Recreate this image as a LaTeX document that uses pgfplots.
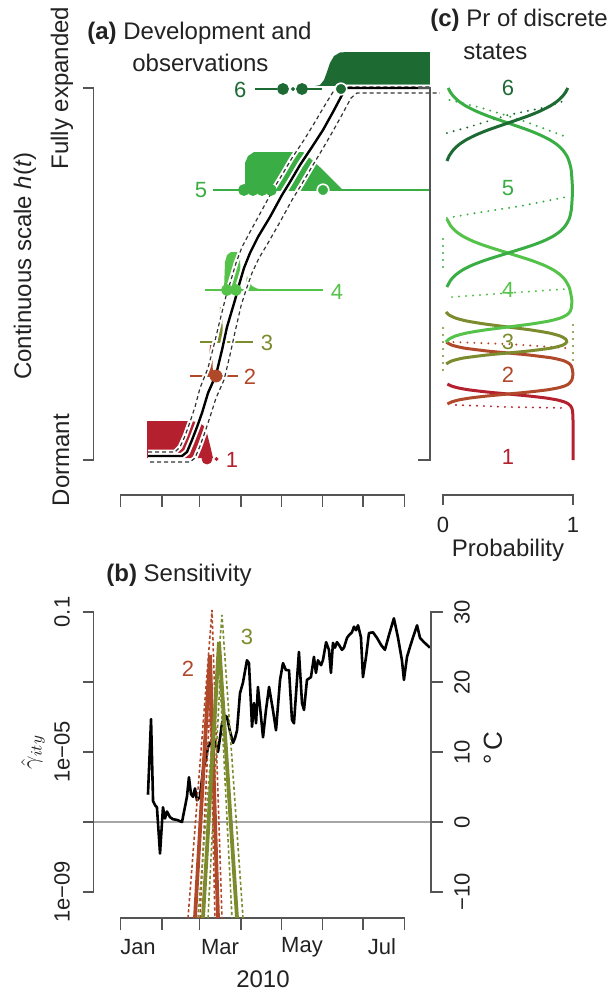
\documentclass[border=0pt]{standalone}
\usepackage{fontspec}
\setmainfont{Liberation Sans}
\usepackage{pgfplots}
\pgfplotsset{compat=1.18}
\definecolor{cA}{HTML}{B5202E}
\definecolor{cB}{HTML}{B0482A}
\definecolor{cC}{HTML}{7B8B2E}
\definecolor{cD}{HTML}{55C24A}
\definecolor{cE}{HTML}{3AAE44}
\definecolor{cF}{HTML}{1D6A33}
\definecolor{axg}{HTML}{555555}
\definecolor{txt}{HTML}{222222}
\definecolor{dsh}{HTML}{333333}
\tikzset{lab/.style={font=\fontsize{11}{13}\selectfont, text=txt, inner sep=0pt},
         ttl/.style={font=\fontsize{12}{14}\selectfont, text=txt, inner sep=0pt},
         dots/.style={line width=1.1pt, dash pattern=on 0pt off 3.5pt, line cap=round}}
\begin{document}
\begin{tikzpicture}
\useasboundingbox (0,0) rectangle (307pt,-496pt);
% ---------------- Panel (a) ----------------
\begin{axis}[at={(46.75pt,-230pt)},anchor=south west,scale only axis,width=168.75pt,height=186pt,
  xmin=-20.16,xmax=231.8,ymin=0,ymax=372,axis lines=none,ticks=none,clip=false]
% density shapes
\addplot[fill=cA,draw=none] coordinates {(19.78,2) (19.78,39) (51.88,39) (57.85,38) (62.33,34) (64.57,27) (66.81,15) (69.05,2)} -- cycle;
\addplot[fill=cB,draw=none] coordinates {(65.32,84) (66.81,115) (68.30,115) (69.05,84)} -- cycle;
\addplot[fill=cC,draw=none] coordinates {(72.78,118) (74.28,153) (75.77,153) (76.52,118)} -- cycle;
\addplot[fill=cD,draw=none] coordinates {(77.26,170) (78.01,198) (79.50,205) (82.49,208) (87.71,208) (89.21,204) (89.95,170)} -- cycle;
\addplot[fill=cD,draw=none] coordinates {(92.19,170) (93.68,177) (94.43,184) (95.92,179) (98.16,174) (101.90,171.5) (107.87,170)} -- cycle;
\addplot[fill=cE,draw=none] coordinates {(92.94,270) (92.94,297) (95.18,304) (99.66,308) (136.23,308) (142.95,300) (150.42,291) (157.88,281) (162.36,275) (166.10,270)} -- cycle;
\addplot[fill=cF,draw=none] coordinates {(145.19,374) (148.93,375) (151.91,380) (154.15,388) (156.39,397) (159.38,404) (163.86,407.5) (169.08,408) (231.04,408) (231.04,375)} -- cycle;
% stage lines
\addplot[cB,line width=1pt] coordinates {(51.88,84) (87.71,84)};
\addplot[cC,line width=1pt] coordinates {(59.35,118) (98.91,118)};
\addplot[cD,line width=1pt] coordinates {(63.08,170) (151.17,170)};
\addplot[cE,line width=1pt] coordinates {(69.05,270) (231.04,270)};
\addplot[cF,line width=1pt] coordinates {(100.40,371) (116.83,371)};
\addplot[cF,line width=1pt] coordinates {(139.22,371) (150.42,371)};
% observation dots
\addplot[only marks,mark=*,mark size=2.5pt,cA] coordinates {(64.57,1)};
\addplot[only marks,mark=*,mark size=0.8pt,cA] coordinates {(71.66,1)};
\addplot[only marks,mark=*,mark size=3pt,cB] coordinates {(71.29,84)};
\addplot[only marks,mark=*,mark size=2.75pt,cD] coordinates {(79.50,170) (86.22,170)};
\addplot[only marks,mark=*,mark size=2.75pt,cE] coordinates {(92.19,270) (98.91,270) (105.63,270) (112.34,270)};
\addplot[only marks,mark=*,mark size=2.75pt,cF] coordinates {(121.31,371) (135.49,371)};
\addplot[only marks,mark=*,mark size=0.8pt,cF] coordinates {(128.77,371)};
% halos
\addplot[white,line width=2.4pt] coordinates {(20.53,8) (40.68,8) (44.42,13) (48.15,24) (51.88,38) (55.61,53) (59.35,72) (65.32,92) (69.80,115) (74.28,140) (78.76,164) (82.49,180) (86.22,197) (90.70,213) (96.67,228) (105.63,250) (114.59,272) (120.56,285) (128.02,302) (136.98,320) (145.19,338) (152.66,355) (158.63,368) (162.36,373) (231.04,373)};
\addplot[white,line width=2.4pt] coordinates {(22.02,-2) (51.88,-2) (55.61,2) (59.35,14) (63.08,28) (66.81,43) (71.29,62) (77.26,80) (81.74,105) (85.48,128) (89.95,154) (93.68,170) (98.16,187) (103.39,202) (110.11,217) (119.07,238) (128.02,260) (134.00,273) (141.46,290) (150.42,310) (158.63,329) (166.10,347) (172.07,362) (176.55,367) (238.5,367)};
\addplot[white,line width=3.2pt] coordinates {(20.53,4) (45.91,4) (49.64,8) (53.37,20) (57.11,33) (60.84,47) (65.32,67) (71.29,85) (75.77,110) (79.50,133) (85.48,160) (88.46,175) (92.19,192) (96.67,207) (102.64,223) (111.60,243) (120.56,265) (126.53,278) (134.00,295) (142.95,313) (151.17,330) (158.63,348) (165.35,365) (169.08,372) (231.04,372)};
% credible intervals and mean
\addplot[dsh,line width=0.6pt,dash pattern=on 2pt off 1.5pt] coordinates {(20.53,8) (40.68,8) (44.42,13) (48.15,24) (51.88,38) (55.61,53) (59.35,72) (65.32,92) (69.80,115) (74.28,140) (78.76,164) (82.49,180) (86.22,197) (90.70,213) (96.67,228) (105.63,250) (114.59,272) (120.56,285) (128.02,302) (136.98,320) (145.19,338) (152.66,355) (158.63,368) (162.36,373) (231.04,373)};
\addplot[dsh,line width=0.6pt,dash pattern=on 2pt off 1.5pt] coordinates {(22.02,-2) (51.88,-2) (55.61,2) (59.35,14) (63.08,28) (66.81,43) (71.29,62) (77.26,80) (81.74,105) (85.48,128) (89.95,154) (93.68,170) (98.16,187) (103.39,202) (110.11,217) (119.07,238) (128.02,260) (134.00,273) (141.46,290) (150.42,310) (158.63,329) (166.10,347) (172.07,362) (176.55,367) (238.5,367)};
\addplot[black,line width=1.2pt] coordinates {(20.53,4) (45.91,4) (49.64,8) (53.37,20) (57.11,33) (60.84,47) (65.32,67) (71.29,85) (75.77,110) (79.50,133) (85.48,160) (88.46,175) (92.19,192) (96.67,207) (102.64,223) (111.60,243) (120.56,265) (126.53,278) (134.00,295) (142.95,313) (151.17,330) (158.63,348) (165.35,365) (169.08,372) (231.04,372)};
\addplot[only marks,mark=*,mark size=2.9pt,mark options={fill=cE,draw=white,line width=0.8pt}] coordinates {(151.17,270)};
\addplot[only marks,mark=*,mark size=2.9pt,mark options={fill=cF,draw=white,line width=0.8pt}] coordinates {(164.61,371)};
% stage labels
\node[lab,text=cF] at (axis cs:89.4,370) {6};
\node[lab,text=cE] at (axis cs:60.1,270) {5};
\node[lab,text=cD] at (axis cs:161.6,168) {4};
\node[lab,text=cC] at (axis cs:109.4,117) {3};
\node[lab,text=cB] at (axis cs:96.7,83) {2};
\node[lab,text=cA] at (axis cs:83.2,0) {1};
% axes
\draw[axg,line width=0.65pt] (axis cs:-20.16,372) ++(-5.5pt,0pt) -- (axis cs:-20.16,372) -- (axis cs:-20.16,0) -- ++(-5.5pt,0pt);
\draw[axg,line width=0.65pt] (axis cs:0,-47) -- (axis cs:0,-35) -- (axis cs:212,-35) -- (axis cs:212,-47)
  (axis cs:31,-35) -- (axis cs:31,-47) (axis cs:59,-35) -- (axis cs:59,-47) (axis cs:90,-35) -- (axis cs:90,-47)
  (axis cs:120,-35) -- (axis cs:120,-47) (axis cs:151,-35) -- (axis cs:151,-47) (axis cs:181,-35) -- (axis cs:181,-47);
\end{axis}
% ---------------- Panel (c) ----------------
\begin{axis}[at={(221.5pt,-230pt)},anchor=south west,scale only axis,width=65pt,height=186pt,
  xmin=0,xmax=1,ymin=0,ymax=372,axis lines=none,ticks=none,clip=false]
% dotted alternative estimates
\addplot[cE,dots] coordinates {(0.03,242) (0.3,248) (0.6,254) (0.95,263)};
\addplot[cD,dots] coordinates {(0.07,163) (0.5,167) (0.95,171)};
\addplot[cF,dots] coordinates {(0.03,327) (0.2,333) (0.5,345) (0.8,353) (0.95,360)};
\addplot[cE,dots] coordinates {(0.05,360) (0.3,352) (0.6,340) (0.95,323)};
\addplot[cE,dots] coordinates {(0,193) (0,227)};
\addplot[cB,dots] coordinates {(0.08,118) (0.5,116) (0.95,112)};
\addplot[cA,dots] coordinates {(0.1,55) (0.5,53) (0.95,52)};
\addplot[cC,dots] coordinates {(0,90) (0,137)};
\addplot[cC,dots] coordinates {(1,100) (1,135)};
% probability curves
\addplot[cA,line width=1.5pt,smooth,tension=0.4] coordinates {(1,0) (1,40) (0.995,50) (0.982,54) (0.966,56) (0.935,58) (0.881,60) (0.792,62) (0.661,64) (0.5,66) (0.339,68) (0.208,70) (0.119,72) (0.065,74) (0.034,76)};
\addplot[cB,line width=1.5pt,smooth,tension=0.4] coordinates {(0.034,56) (0.065,58) (0.119,60) (0.208,62) (0.339,64) (0.5,66) (0.661,68) (0.792,70) (0.881,72) (0.935,74) (0.966,76) (0.991,80) (0.999,85) (0.996,90) (0.987,94) (0.975,96) (0.935,99) (0.841,102) (0.661,105) (0.5,107) (0.339,109) (0.159,112) (0.065,115) (0.025,118)};
\addplot[cC,line width=1.5pt,smooth,tension=0.4] coordinates {(0.025,96) (0.065,99) (0.158,102) (0.338,105) (0.498,107) (0.658,109) (0.836,112) (0.924,115) (0.952,118) (0.943,121) (0.901,124) (0.817,127) (0.679,130) (0.5,133) (0.321,136) (0.182,139) (0.095,142) (0.047,145) (0.023,148)};
\addplot[cD,line width=1.5pt,smooth,tension=0.4] coordinates {(0.023,118) (0.047,121) (0.095,124) (0.182,127) (0.321,130) (0.5,133) (0.679,136) (0.817,139) (0.904,142) (0.951,145) (0.975,148) (0.987,152) (0.991,160) (0.977,170) (0.97,173) (0.94,180) (0.904,185) (0.85,190) (0.773,195) (0.671,200) (0.5,207) (0.329,214) (0.227,219) (0.15,224) (0.096,229) (0.06,234) (0.03,241)};
\addplot[cE,line width=1.5pt,smooth,tension=0.4] coordinates {(0.03,173) (0.06,180) (0.096,185) (0.15,190) (0.227,195) (0.329,200) (0.5,207) (0.671,214) (0.773,219) (0.85,224) (0.904,229) (0.94,234) (0.97,241) (0.987,250) (0.996,270) (0.986,290) (0.969,299) (0.953,304) (0.921,310) (0.881,315) (0.824,320) (0.748,325) (0.654,330) (0.5,337) (0.346,344) (0.252,349) (0.176,354) (0.119,359) (0.079,364) (0.056,368) (0.04,372)};
\addplot[cF,line width=1.5pt,smooth,tension=0.4] coordinates {(0.031,299) (0.047,304) (0.079,310) (0.119,315) (0.176,320) (0.252,325) (0.346,330) (0.5,337) (0.654,344) (0.748,349) (0.824,354) (0.881,359) (0.921,364) (0.944,368) (0.96,372)};
% state labels
\node[lab,text=cF] at (axis cs:0.5,372) {6};
\node[lab,text=cE] at (axis cs:0.5,272) {5};
\node[lab,text=cD] at (axis cs:0.5,170) {4};
\node[lab,text=cC] at (axis cs:0.5,118) {3};
\node[lab,text=cB] at (axis cs:0.5,85) {2};
\node[lab,text=cA] at (axis cs:0.5,3) {1};
% axes
\draw[axg,line width=0.65pt] (axis cs:-0.1,372) ++(-6pt,0pt) -- (axis cs:-0.1,372) -- (axis cs:-0.1,0) -- ++(-6pt,0pt);
\draw[axg,line width=0.65pt] (axis cs:0,-45) -- (axis cs:0,-35) -- (axis cs:1,-35) -- (axis cs:1,-45);
\end{axis}
% ---------------- Panel (b): temperature ----------------
\begin{axis}[at={(46.75pt,-459pt)},anchor=south west,scale only axis,width=168.75pt,height=159pt,
  xmin=-20.16,xmax=231.8,ymin=-13.714,ymax=31.714,axis lines=none,ticks=none,clip=false]
\addplot[color=black!35,line width=0.6pt] coordinates {(-20.16,0) (231.8,0)};
\addplot[black,line width=1.3pt,line join=round] coordinates {
(20.5,3.9) (22.8,14.7) (24.3,3.0) (25.8,2.4) (27.2,2.1) (29.5,-4.5) (31.7,2.1) (33.2,0.5) (34.7,1.5) (36.9,0.7)
(39.2,0.4) (42.2,0.3) (45.9,0.0) (49.6,3.6) (51.1,6.4) (52.6,4.0) (54.1,3.6) (55.6,4.8) (57.1,3.1) (59.3,3.6)
(61.6,7.4) (63.8,9.0) (65.3,10.7) (67.6,11.5) (69.1,12.1) (71.3,11.0) (72.8,10.0) (75.8,14.1) (78.0,15.2) (79.5,15.0)
(81.7,13.0) (84.0,11.3) (85.5,12.0) (87.0,13.1) (89.2,18.4) (91.4,19.9) (94.4,23.1) (95.9,22.7) (98.2,13.6) (99.7,17.0)
(101.2,14.1) (102.6,19.3) (104.9,15.0) (106.4,12.1) (108.6,16.0) (110.9,19.3) (113.8,16.0) (116.1,13.1) (119.1,20.3) (121.3,22.7)
(123.5,21.7) (125.8,21.7) (128.0,14.6) (129.5,14.1) (133.2,24.3) (135.5,17.0) (137.0,16.0) (139.2,20.3) (142.2,20.7) (144.4,23.6)
(145.9,21.3) (147.4,23.1) (149.7,22.4) (151.1,23.1) (153.5,25.7) (155.6,24.6) (157.1,21.3) (158.6,25.6) (160.1,24.9) (161.6,25.7)
(163.1,25.3) (165.3,24.6) (166.8,24.9) (169.1,26.3) (170.6,26.7) (172.8,27.1) (174.3,27.9) (175.8,27.4) (177.3,28.1) (179.5,26.4)
(181.0,20.7) (183.3,23.6) (185.5,27.0) (188.5,27.1) (191.5,26.3) (194.5,25.3) (197.4,24.6) (200.4,26.7) (204.1,29.1) (207.1,26.4)
(210.1,23.1) (211.6,20.3) (213.9,23.6) (216.1,25.0) (218.4,26.4) (221.4,28.1) (223.6,26.3) (226.5,25.7) (228.8,25.3) (231.0,24.9)};
\draw[axg,line width=0.65pt] (axis cs:231.8,30) ++(6pt,0pt) -- (axis cs:231.8,30) -- (axis cs:231.8,-10) -- ++(6pt,0pt)
  (axis cs:231.8,20) -- ++(6pt,0pt) (axis cs:231.8,10) -- ++(6pt,0pt) (axis cs:231.8,0) -- ++(6pt,0pt);
\draw[axg,line width=0.65pt] (axis cs:0,-13.714) ++(0pt,-6pt) -- (axis cs:0,-13.714) -- (axis cs:212,-13.714) -- ++(0pt,-6pt)
  (axis cs:31,-13.714) -- ++(0pt,-6pt) (axis cs:59,-13.714) -- ++(0pt,-6pt) (axis cs:90,-13.714) -- ++(0pt,-6pt)
  (axis cs:120,-13.714) -- ++(0pt,-6pt) (axis cs:151,-13.714) -- ++(0pt,-6pt) (axis cs:181,-13.714) -- ++(0pt,-6pt);
\end{axis}
% ---------------- Panel (b): sensitivity (log) ----------------
\begin{axis}[at={(46.75pt,-459pt)},anchor=south west,scale only axis,width=168.75pt,height=159pt,
  xmin=-20.16,xmax=231.8,ymode=log,ymin=1.807e-10,ymax=0.2203,axis lines=none,ticks=none,clip=false]
\addplot[cB,line width=0.8pt,dash pattern=on 1.6pt off 1.2pt] coordinates {(50.39,1.807e-10) (68.30,0.114) (75.77,1.807e-10)};
\addplot[cB,line width=0.8pt,dash pattern=on 1.6pt off 1.2pt] coordinates {(59.35,1.807e-10) (66.81,3.06e-4) (70.54,1.807e-10)};
\addplot[cC,line width=0.8pt,dash pattern=on 1.6pt off 1.2pt] coordinates {(57.85,1.807e-10) (75.77,0.082) (91.45,1.807e-10)};
\addplot[cC,line width=0.8pt,dash pattern=on 1.6pt off 1.2pt] coordinates {(65.32,1.807e-10) (74.28,1.14e-3) (83.23,1.807e-10)};
\addplot[cB,line width=1.9pt] coordinates {(55.61,1.807e-10) (66.81,5.9e-3) (72.78,1.807e-10)};
\addplot[cC,line width=1.9pt] coordinates {(61.58,1.807e-10) (73.53,1.39e-2) (86.97,1.807e-10)};
\draw[axg,line width=0.65pt] (axis cs:-20.16,0.1) ++(-5.5pt,0pt) -- (axis cs:-20.16,0.1) -- (axis cs:-20.16,1e-9) -- ++(-5.5pt,0pt)
  (axis cs:-20.16,1e-3) -- ++(-5.5pt,0pt) (axis cs:-20.16,1e-5) -- ++(-5.5pt,0pt) (axis cs:-20.16,1e-7) -- ++(-5.5pt,0pt);
\node[lab,text=cB] at (axis cs:50.4,2.4e-3) {2};
\node[lab,text=cC] at (axis cs:94.4,0.019) {3};
\end{axis}
% ---------------- text ----------------
\node[ttl,anchor=west] at (43.5pt,-16.5pt) {\textbf{(a)} Development and};
\node[ttl,anchor=west] at (66pt,-31.5pt) {observations};
\node[ttl,anchor=west] at (215pt,-10pt) {\textbf{(c)} Pr of discrete};
\node[ttl,anchor=west] at (231.5pt,-26pt) {states};
\node[ttl,anchor=west] at (53pt,-287.5pt) {\textbf{(b)} Sensitivity};
\node[ttl,rotate=90] at (12.5pt,-133pt) {Continuous scale \textit{h}(\textit{t})};
\node[ttl,rotate=90] at (31pt,-44pt) {Fully expanded};
\node[ttl,rotate=90] at (30.5pt,-230pt) {Dormant};
\node[lab] at (221.5pt,-262.5pt) {0};
\node[lab] at (286.5pt,-262.5pt) {1};
\node[ttl] at (254pt,-275pt) {Probability};
\node[lab,rotate=90] at (31pt,-306pt) {0.1};
\node[lab,rotate=90] at (31pt,-376pt) {1e−05};
\node[lab,rotate=90] at (31pt,-446pt) {1e−09};
\node[ttl,rotate=90] at (16.5pt,-376pt) {$\hat{\gamma}_{ity}$};
\node[lab,rotate=90] at (231pt,-306pt) {30};
\node[lab,rotate=90] at (231pt,-341pt) {20};
\node[lab,rotate=90] at (231pt,-376pt) {10};
\node[lab,rotate=90] at (231pt,-411pt) {0};
\node[lab,rotate=90] at (231pt,-446pt) {−10};
\node[ttl,rotate=90,font=\fontsize{13}{15}\selectfont] at (246.5pt,-374pt) {°\,C};
\node[lab] at (69pt,-473.5pt) {Jan};
\node[lab] at (110pt,-473.5pt) {Mar};
\node[lab] at (151pt,-473.5pt) {May};
\node[lab] at (191pt,-473.5pt) {Jul};
\node[ttl] at (131.5pt,-489.5pt) {2010};
\end{tikzpicture}
\end{document}
